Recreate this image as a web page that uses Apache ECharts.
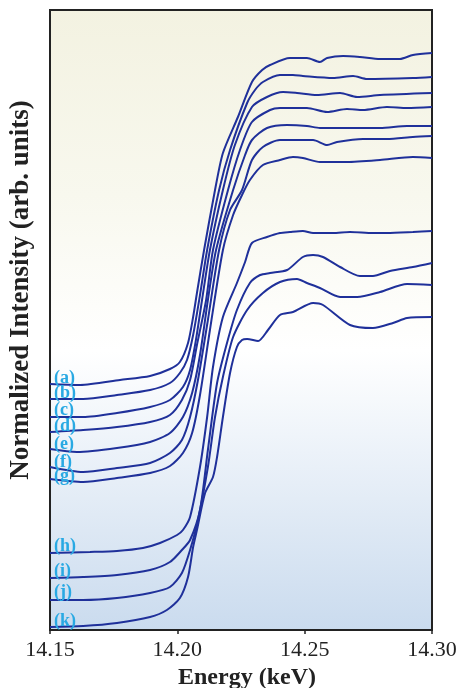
<!DOCTYPE html>
<html>
<head>
<meta charset="utf-8">
<script src="https://cdn.jsdelivr.net/npm/echarts@6/dist/echarts.min.js"></script>
<style>html,body{margin:0;padding:0;background:#fff}#c{width:460px;height:688px}</style>
</head>
<body>
<div id="c"></div>
<script>
var xTicks = [14.15, 14.20, 14.25, 14.30];
var curveNames = ['(a)','(b)','(c)','(d)','(e)','(f)','(g)','(h)','(i)','(j)','(k)'];

var curveA = [[14.1500,2.46],[14.1618,2.45],[14.1775,2.50],[14.1893,2.54],[14.1971,2.61],[14.2010,2.68],[14.2042,2.87],[14.2062,3.13],[14.2077,3.37],[14.2105,3.80],[14.2148,4.40],[14.2179,4.77],[14.2238,5.13],[14.2293,5.48],[14.2333,5.60],[14.2364,5.65],[14.2442,5.72],[14.2509,5.72],[14.2560,5.68],[14.2588,5.72],[14.2651,5.74],[14.2717,5.73],[14.2796,5.71],[14.2874,5.71],[14.2925,5.75],[14.3000,5.77]];
var curveB = [[14.1500,2.31],[14.1630,2.31],[14.1763,2.35],[14.1893,2.40],[14.1971,2.47],[14.2010,2.57],[14.2038,2.70],[14.2062,2.95],[14.2089,3.35],[14.2117,3.80],[14.2164,4.40],[14.2207,4.80],[14.2274,5.27],[14.2305,5.40],[14.2336,5.48],[14.2403,5.55],[14.2454,5.55],[14.2493,5.54],[14.2611,5.52],[14.2690,5.54],[14.2745,5.51],[14.2925,5.52],[14.3000,5.53]];
var curveC = [[14.1500,2.13],[14.1630,2.13],[14.1763,2.17],[14.1893,2.23],[14.1971,2.30],[14.2022,2.43],[14.2050,2.60],[14.2073,2.90],[14.2097,3.30],[14.2128,3.80],[14.2179,4.40],[14.2226,4.85],[14.2293,5.23],[14.2352,5.33],[14.2415,5.38],[14.2470,5.37],[14.2548,5.35],[14.2639,5.37],[14.2706,5.33],[14.2796,5.35],[14.3000,5.37]];
var curveD = [[14.1500,1.98],[14.1630,2.00],[14.1763,2.03],[14.1893,2.08],[14.1971,2.15],[14.2018,2.30],[14.2050,2.50],[14.2077,2.85],[14.2113,3.30],[14.2140,3.80],[14.2199,4.40],[14.2246,4.80],[14.2293,5.08],[14.2364,5.20],[14.2403,5.22],[14.2509,5.22],[14.2588,5.18],[14.2666,5.21],[14.2729,5.20],[14.2823,5.23],[14.2902,5.22],[14.3000,5.23]];
var curveE = [[14.1500,1.81],[14.1606,1.78],[14.1763,1.82],[14.1893,1.88],[14.1971,1.97],[14.2022,2.13],[14.2058,2.37],[14.2089,2.75],[14.2120,3.30],[14.2152,3.80],[14.2219,4.40],[14.2266,4.75],[14.2293,4.90],[14.2352,5.02],[14.2431,5.05],[14.2509,5.04],[14.2560,5.02],[14.2666,5.02],[14.2796,5.02],[14.2902,5.04],[14.3000,5.04]];
var curveF = [[14.1500,1.63],[14.1630,1.58],[14.1763,1.62],[14.1893,1.67],[14.1971,1.77],[14.2018,1.90],[14.2050,2.13],[14.2081,2.50],[14.2120,3.10],[14.2164,3.80],[14.2207,4.20],[14.2254,4.40],[14.2293,4.70],[14.2336,4.83],[14.2403,4.90],[14.2533,4.90],[14.2588,4.85],[14.2627,4.88],[14.2729,4.91],[14.2823,4.91],[14.2925,4.93],[14.3000,4.94]];
var curveG = [[14.1500,1.51],[14.1630,1.48],[14.1763,1.52],[14.1893,1.57],[14.1971,1.64],[14.2022,1.77],[14.2058,1.97],[14.2089,2.35],[14.2128,3.00],[14.2179,3.80],[14.2219,4.15],[14.2254,4.35],[14.2285,4.50],[14.2336,4.65],[14.2403,4.70],[14.2454,4.73],[14.2493,4.72],[14.2560,4.68],[14.2666,4.68],[14.2796,4.70],[14.2925,4.73],[14.3000,4.72]];
var curveH = [[14.1500,0.77],[14.1657,0.78],[14.1763,0.79],[14.1865,0.82],[14.1932,0.87],[14.1999,0.95],[14.2022,1.00],[14.2050,1.13],[14.2089,1.63],[14.2117,2.13],[14.2140,2.63],[14.2179,3.13],[14.2234,3.47],[14.2266,3.68],[14.2293,3.87],[14.2352,3.93],[14.2403,3.97],[14.2442,3.98],[14.2493,3.99],[14.2533,3.97],[14.2611,3.97],[14.2678,3.98],[14.2768,3.97],[14.2823,3.97],[14.2925,3.98],[14.3000,3.99]];
var curveI = [[14.1500,0.52],[14.1630,0.53],[14.1763,0.55],[14.1893,0.60],[14.1971,0.68],[14.2018,0.80],[14.2050,0.90],[14.2089,1.20],[14.2120,1.80],[14.2156,2.47],[14.2195,2.87],[14.2234,3.20],[14.2285,3.47],[14.2325,3.55],[14.2364,3.57],[14.2431,3.60],[14.2493,3.73],[14.2533,3.75],[14.2572,3.73],[14.2639,3.63],[14.2717,3.54],[14.2768,3.54],[14.2835,3.59],[14.2925,3.63],[14.3000,3.67]];
var curveJ = [[14.1500,0.30],[14.1630,0.30],[14.1763,0.32],[14.1893,0.37],[14.1971,0.43],[14.2018,0.57],[14.2050,0.80],[14.2081,1.10],[14.2120,1.63],[14.2148,2.13],[14.2179,2.53],[14.2219,2.93],[14.2274,3.20],[14.2336,3.37],[14.2403,3.48],[14.2470,3.51],[14.2509,3.47],[14.2560,3.42],[14.2639,3.33],[14.2706,3.33],[14.2796,3.38],[14.2902,3.46],[14.3000,3.45]];
var curveK = [[14.1500,0.03],[14.1630,0.04],[14.1763,0.07],[14.1893,0.13],[14.1959,0.20],[14.2010,0.32],[14.2042,0.53],[14.2062,0.83],[14.2077,1.00],[14.2109,1.37],[14.2140,1.53],[14.2156,1.73],[14.2179,2.13],[14.2207,2.57],[14.2234,2.83],[14.2254,2.90],[14.2274,2.91],[14.2317,2.89],[14.2356,3.00],[14.2403,3.15],[14.2454,3.18],[14.2533,3.27],[14.2572,3.25],[14.2678,3.05],[14.2768,3.02],[14.2847,3.07],[14.2902,3.12],[14.3000,3.13]];

var curves = [curveA,curveB,curveC,curveD,curveE,curveF,curveG,curveH,curveI,curveJ,curveK];
var labelShift = [-6,-6,-7,-6,-5,-5,-3,-7,-7,-8,-6];

var serif = '"Liberation Serif","Times New Roman",serif';
var lineColor = '#1f309a';

var series = curves.map(function(d, i){
  return {
    type: 'line', data: d, symbol: 'none', smooth: 0.25,
    lineStyle: {color: lineColor, width: 2},
    z: 3,
    markPoint: {
      symbol: 'circle', symbolSize: 0, silent: true,
      data: [{coord: d[0], value: curveNames[i]}],
      label: {
        show: true, formatter: curveNames[i], position: 'right', distance: 4,
        offset: [0, labelShift[i]],
        color: '#29a9e3', fontFamily: serif, fontWeight: 'bold', fontSize: 18
      }
    }
  };
});

var chart = echarts.init(document.getElementById('c'), null, {renderer: 'canvas'});
chart.setOption({
  animation: false,
  backgroundColor: '#ffffff',
  grid: {
    left: 50, right: 28, top: 10, bottom: 58, show: true,
    containLabel: false, outerBoundsMode: 'none',
    borderColor: '#222', borderWidth: 2,
    backgroundColor: {type: 'linear', x: 0, y: 0, x2: 0, y2: 1, colorStops: [
      {offset: 0, color: '#f3f2e1'},
      {offset: 0.3, color: '#f8f8ee'},
      {offset: 0.55, color: '#ffffff'},
      {offset: 1, color: '#cadbee'}
    ]}
  },
  xAxis: {
    type: 'value', min: 14.15, max: 14.30, interval: 0.05,
    name: 'Energy (keV)', nameLocation: 'middle', nameGap: 36,
    nameTextStyle: {fontFamily: serif, fontWeight: 'bold', fontSize: 24, color: '#222', padding: [0, 0, 0, 12]},
    axisLine: {show: true, lineStyle: {color: '#222', width: 2}},
    axisTick: {show: true, length: 4, lineStyle: {color: '#222', width: 1.5}},
    axisLabel: {fontFamily: serif, fontSize: 22, color: '#222', margin: 9,
      formatter: function(v){ return v.toFixed(2); }},
    splitLine: {show: false}
  },
  yAxis: {
    type: 'value', min: 0, max: 6.2,
    name: 'Normalized Intensity (arb. units)', nameLocation: 'middle', nameGap: 15,
    nameTextStyle: {fontFamily: serif, fontWeight: 'bold', fontSize: 27, color: '#222', padding: [0, 0, 0, 60]},
    axisLine: {show: true, lineStyle: {color: '#222', width: 2}},
    axisTick: {show: false}, axisLabel: {show: false}, splitLine: {show: false}
  },
  series: series
});
</script>
</body>
</html>
